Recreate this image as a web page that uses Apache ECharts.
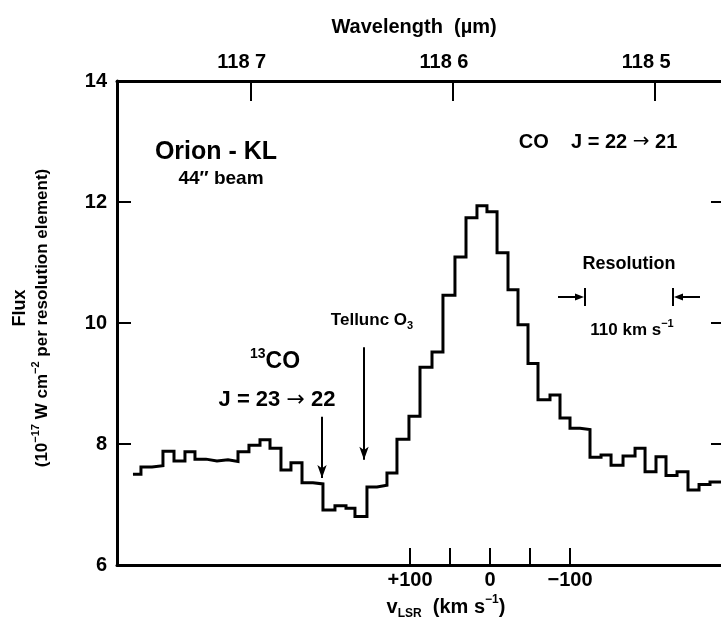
<!DOCTYPE html>
<html><head><meta charset="utf-8">
<script src="https://cdn.jsdelivr.net/npm/echarts@6/dist/echarts.min.js"></script>
<style>html,body{margin:0;padding:0;background:#fff}#c{width:721px;height:627px}</style>
</head><body><div id="c"></div>
<script>
// ---- data (velocity in km/s, flux in 1e-17 W cm^-2 per resolution element) ----
const binEdges = [446.3, 436.3, 422.5, 408.8, 395, 381.3, 368.8, 355, 341.3, 327.5, 315, 301.3, 287.5, 275, 261.3, 248.8,
  235, 221.3, 208.8, 193.8, 180, 168.8, 153.8, 141.3, 128.8, 116.3, 101.3, 87.5, 72.5, 58.8, 43.8, 30, 16.3, 3.8,
  -8.8, -22.5, -35, -47.5, -60, -75, -87.5, -100, -112.5, -125, -138.8, -151.3, -166.3, -181.3, -193.8, -207.5,
  -220, -233.8, -247.5, -261.3, -275, -288.75];
const flux = [7.50, 7.62, 7.64, 7.88, 7.72, 7.87, 7.75, 7.72, 7.74, 7.71, 7.87, 7.98, 8.07, 7.93, 7.57, 7.69,
  7.36, 7.34, 6.91, 6.98, 6.94, 6.80, 7.29, 7.32, 7.52, 8.08, 8.46, 9.27, 9.52, 10.46, 11.09, 11.74, 11.94,
  11.84, 11.16, 10.55, 9.97, 9.33, 8.73, 8.81, 8.43, 8.26, 8.24, 7.78, 7.82, 7.65, 7.80, 7.93, 7.54, 7.79,
  7.48, 7.54, 7.24, 7.33, 7.37];
const fluxRange = [6, 14];
const fluxInterval = 2;
const velRange = [-288.75, 466.25];
const velTicks = [100, 50, 0, -50, -100];
const velLabelValues = [100, 0, -100];
const wlTicks = [118.7, 118.6, 118.5];
const wlLabels = ['118 7', '118 6', '118 5'];
const restWavelength = 118.5817; // CO J=22-21, micron
const cLight = 299792.458;
const resolutionKms = 110;
const resolutionStart = -118.75;
const co13Arrow = {v: 210, from: 8.45, to: 7.44};
const o3Arrow = {v: 157.5, from: 9.6, to: 7.74};

// ---- build ----
const wl = v => restWavelength * (1 + v / cLight);
const pts = [];
for (let i = 0; i < flux.length; i++) {
  pts.push([binEdges[i], flux[i]]);
  pts.push([binEdges[i + 1], flux[i]]);
}
const FONT = '"Liberation Sans", Arial, Helvetica, sans-serif';
const ARROWFONT = '"DejaVu Sans", sans-serif';
const lbl = {color: '#000', fontSize: 20, fontWeight: 'bold', fontFamily: FONT};
const chart = echarts.init(document.getElementById('c'), null, {renderer: 'canvas'});
const option = {
  animation: false,
  backgroundColor: '#fff',
  grid: {left: 117, top: 81, right: 0, bottom: 62},
  xAxis: [
    {type: 'value', position: 'bottom', inverse: true, min: velRange[0], max: velRange[1],
      axisLine: {show: true, onZero: false, lineStyle: {color: '#000', width: 3}},
      axisTick: {show: true, inside: true, length: 17, customValues: velTicks, lineStyle: {color: '#000', width: 2}},
      axisLabel: Object.assign({show: true, margin: 5, customValues: velLabelValues,
        formatter: v => v > 0 ? '+' + v : (v < 0 ? '\u2212' + Math.abs(v) : '0')}, lbl),
      splitLine: {show: false}},
    {type: 'value', position: 'top', inverse: true, min: wl(velRange[0]), max: wl(velRange[1]),
      axisLine: {show: true, onZero: false, lineStyle: {color: '#000', width: 3}},
      axisTick: {show: true, inside: true, length: 20, customValues: wlTicks, lineStyle: {color: '#000', width: 2}},
      axisLabel: Object.assign({show: true, margin: 9, customValues: wlTicks, padding: [0, 18, 0, 0],
        formatter: v => { const i = wlTicks.findIndex(t => Math.abs(t - v) < 1e-6); return i >= 0 ? wlLabels[i] : ''; }}, lbl),
      splitLine: {show: false}}
  ],
  yAxis: [
    {type: 'value', position: 'left', min: fluxRange[0], max: fluxRange[1], interval: fluxInterval,
      axisLine: {show: true, onZero: false, lineStyle: {color: '#000', width: 3}},
      axisTick: {show: true, inside: true, length: 14, lineStyle: {color: '#000', width: 2}},
      axisLabel: Object.assign({show: true, margin: 10}, lbl),
      splitLine: {show: false}},
    {type: 'value', position: 'right', min: fluxRange[0], max: fluxRange[1], interval: fluxInterval,
      axisLine: {show: false, onZero: false},
      axisTick: {show: true, inside: true, length: 10, lineStyle: {color: '#000', width: 2}},
      axisLabel: {show: false}, splitLine: {show: false}}
  ],
  series: [{
    type: 'line', data: pts, xAxisIndex: 0, yAxisIndex: 0, showSymbol: false, symbol: 'none',
    lineStyle: {color: '#000', width: 3, join: 'miter', cap: 'butt'},
    markLine: {silent: true, symbol: ['none', 'arrow'], symbolSize: [7, 13], label: {show: false},
      lineStyle: {color: '#000', width: 2, type: 'solid'},
      data: [
        [{coord: [co13Arrow.v, co13Arrow.from]}, {coord: [co13Arrow.v, co13Arrow.to]}],
        [{coord: [o3Arrow.v, o3Arrow.from]}, {coord: [o3Arrow.v, o3Arrow.to]}]
      ]}
  }]
};
chart.setOption(option);

function txt(x, y, text, size, extra) {
  return {type: 'text', x: x, y: y, silent: true,
    style: Object.assign({text: text, fontSize: size, fontWeight: 'bold', fontFamily: FONT, fill: '#000',
      align: 'center', verticalAlign: 'middle'}, extra || {})};
}
const rich = size => ({rich: {
  n: {fontSize: size, fontWeight: 'bold', fontFamily: FONT, lineHeight: size + 6},
  ar: {fontSize: size, fontWeight: 'normal', fontFamily: ARROWFONT, lineHeight: size + 6},
  sup: {fontSize: Math.round(size * 0.62), fontWeight: 'bold', fontFamily: FONT, verticalAlign: 'top', lineHeight: size + 6},
  sub: {fontSize: Math.round(size * 0.62), fontWeight: 'bold', fontFamily: FONT, verticalAlign: 'bottom', lineHeight: size + 6}
}});

const xL = chart.convertToPixel({xAxisIndex: 0}, resolutionStart);
const xR = chart.convertToPixel({xAxisIndex: 0}, resolutionStart - resolutionKms);
const yRes = 297;
const g = [
  txt(414, 27, 'Wavelength  (\u00b5m)', 20),
  txt(446, 607, '{n|v}{sub|LSR}{n|  (km s}{sup|\u22121}{n|)}', 20, rich(20)),
  Object.assign(txt(20, 308, 'Flux', 18), {rotation: Math.PI / 2}),
  Object.assign(txt(42, 318, '{n|(10}{sup|\u221217}{n| W cm}{sup|\u22122}{n| per resolution element)}', 17, rich(17)), {rotation: Math.PI / 2}),
  txt(216, 152, 'Orion - KL', 25),
  txt(221, 179, '44\u2033 beam', 19),
  txt(598, 142, '{n|CO    J = 22 }{ar|\u2192}{n| 21}', 20, rich(20)),
  txt(629, 264, 'Resolution', 18),
  txt(632, 330, '{n|110 km s}{sup|\u22121}', 17, rich(17)),
  txt(372, 320, '{n|Tellunc O}{sub|3}', 17, rich(17)),
  txt(275, 362, '{sup|13}{n|CO}', 23, rich(23)),
  txt(277, 400, '{n|J = 23 }{ar|\u2192}{n| 22}', 22, rich(22)),
  // resolution bracket
  {type: 'line', silent: true, shape: {x1: xL, y1: yRes - 9, x2: xL, y2: yRes + 9}, style: {stroke: '#000', lineWidth: 2}},
  {type: 'line', silent: true, shape: {x1: xR, y1: yRes - 9, x2: xR, y2: yRes + 9}, style: {stroke: '#000', lineWidth: 2}},
  {type: 'line', silent: true, shape: {x1: xL - 27, y1: yRes, x2: xL - 6, y2: yRes}, style: {stroke: '#000', lineWidth: 2}},
  {type: 'polygon', silent: true, shape: {points: [[xL - 1, yRes], [xL - 10, yRes - 3.5], [xL - 10, yRes + 3.5]]}, style: {fill: '#000'}},
  {type: 'line', silent: true, shape: {x1: xR + 6, y1: yRes, x2: xR + 27, y2: yRes}, style: {stroke: '#000', lineWidth: 2}},
  {type: 'polygon', silent: true, shape: {points: [[xR + 1, yRes], [xR + 10, yRes - 3.5], [xR + 10, yRes + 3.5]]}, style: {fill: '#000'}}
];
chart.setOption({graphic: g});
</script>
</body></html>
